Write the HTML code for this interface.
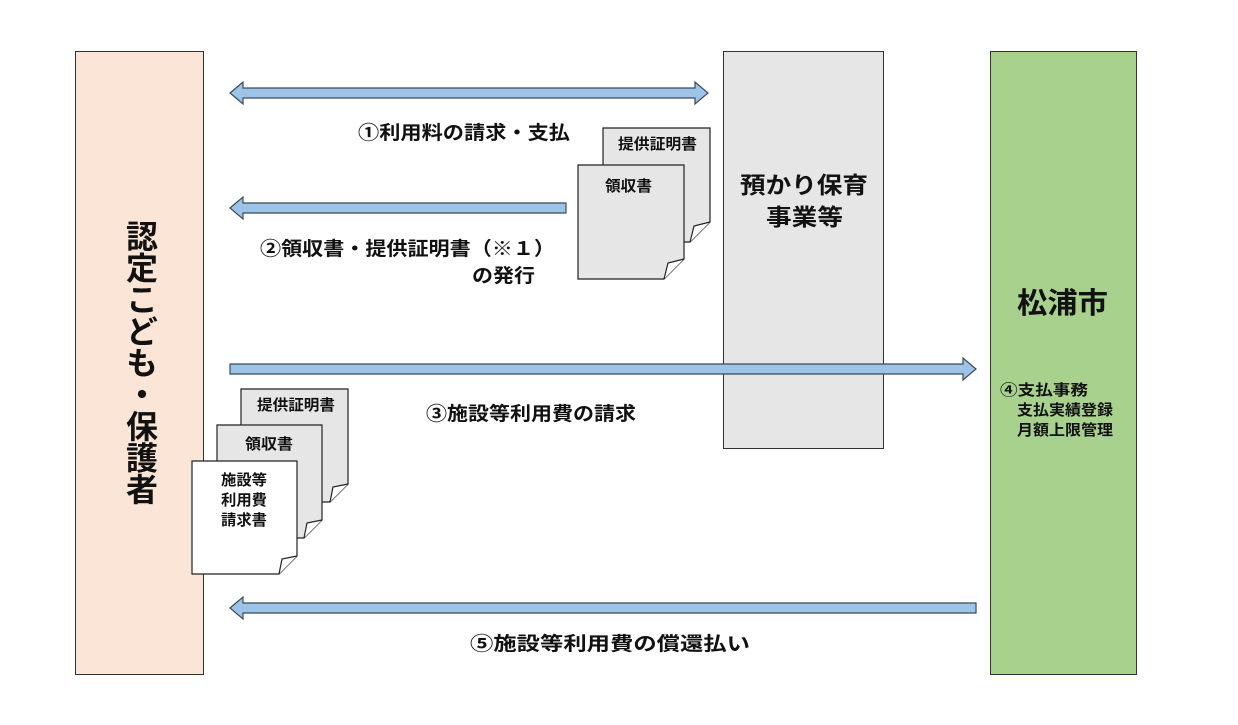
<!DOCTYPE html>
<html><head><meta charset="utf-8"><style>
body{margin:0;background:#fff}
svg text{font-family:"Liberation Sans","Noto Sans CJK JP",sans-serif;font-weight:bold;fill:#111}
</style></head><body>
<svg width="1238" height="720" viewBox="0 0 1238 720" xmlns="http://www.w3.org/2000/svg">
<rect x="75.5" y="51.5" width="128" height="623" fill="#fbe5d6" stroke="#333"/>
<rect x="723.5" y="51.5" width="160" height="397" fill="#e7e6e6" stroke="#333"/>
<rect x="990.5" y="51.5" width="146" height="623" fill="#a9d18e" stroke="#333"/>
<g fill="#9dc3e6" stroke="#3a4a5a" stroke-width="1.2">
<path d="M230 93 L243 82 L243 88 L695 88 L695 82 L708 93 L695 104 L695 98 L243 98 L243 104 Z"/>
<path d="M230 208 L243 197 L243 203 L566 203 L566 213 L243 213 L243 219 Z"/>
<path d="M976 369 L963 358 L963 364 L230 364 L230 374 L963 374 L963 380 Z"/>
<path d="M230 608 L243 597 L243 603 L976 603 L976 613 L243 613 L243 619 Z"/>
</g>
<g stroke="#222" stroke-width="1.2">
<path d="M603 128 H710 V222 L690 242 H603 Z" fill="#e7e6e6"/>
<path d="M690 242 L694 226 L710 222" fill="#fff"/>
<path d="M578 165 H684 V259 L664 279 H578 Z" fill="#e7e6e6"/>
<path d="M664 279 L668 263 L684 259" fill="#fff"/>
<path d="M241 389 H348 V484 L330 502 H241 Z" fill="#e7e6e6"/>
<path d="M330 502 L333 487 L348 484" fill="#fff"/>
<path d="M217 425 H322 V520 L304 538 H217 Z" fill="#e7e6e6"/>
<path d="M304 538 L307 523 L322 520" fill="#fff"/>
<path d="M192 461 H297 V556 L279 574 H192 Z" fill="#fff"/>
<path d="M279 574 L282 559 L297 556" fill="#fff"/>
</g>
<g lengthAdjust="spacingAndGlyphs">
<text x="618" y="149" font-size="15" textLength="79" lengthAdjust="spacingAndGlyphs">提供証明書</text>
<text x="605" y="191" font-size="15" textLength="47" lengthAdjust="spacingAndGlyphs">領収書</text>
<text x="257" y="410" font-size="15" textLength="78" lengthAdjust="spacingAndGlyphs">提供証明書</text>
<text x="245" y="449" font-size="15" textLength="48" lengthAdjust="spacingAndGlyphs">領収書</text>
<text x="221" y="485" font-size="15" textLength="46" lengthAdjust="spacingAndGlyphs">施設等</text>
<text x="221" y="505" font-size="15" textLength="46" lengthAdjust="spacingAndGlyphs">利用費</text>
<text x="221" y="525" font-size="15" textLength="46" lengthAdjust="spacingAndGlyphs">請求書</text>
<text x="358" y="139" font-size="19" textLength="212" lengthAdjust="spacingAndGlyphs">①利用料の請求・支払</text>
<text x="260" y="255" font-size="19" textLength="295" lengthAdjust="spacingAndGlyphs">②領収書・提供証明書（※１）</text>
<text x="472" y="282" font-size="19" textLength="63" lengthAdjust="spacingAndGlyphs">の発行</text>
<text x="426" y="420" font-size="19" textLength="210" lengthAdjust="spacingAndGlyphs">③施設等利用費の請求</text>
<text x="470" y="650" font-size="19" textLength="280" lengthAdjust="spacingAndGlyphs">⑤施設等利用費の償還払い</text>
<text x="740" y="193" font-size="23" textLength="128" lengthAdjust="spacingAndGlyphs">預かり保育</text>
<text x="766" y="225" font-size="23" textLength="77" lengthAdjust="spacingAndGlyphs">事業等</text>
<text x="1017" y="313" font-size="29" textLength="91" lengthAdjust="spacingAndGlyphs">松浦市</text>
<text x="1000" y="395" font-size="15" textLength="88" lengthAdjust="spacingAndGlyphs">④支払事務</text>
<text x="1017" y="415" font-size="15" textLength="96" lengthAdjust="spacingAndGlyphs">支払実績登録</text>
<text x="1017" y="435" font-size="15" textLength="96" lengthAdjust="spacingAndGlyphs">月額上限管理</text>
</g>
<text x="140" y="220" font-size="32" writing-mode="tb" textLength="285" lengthAdjust="spacingAndGlyphs">認定こども・保護者</text>
</svg>
</body></html>
